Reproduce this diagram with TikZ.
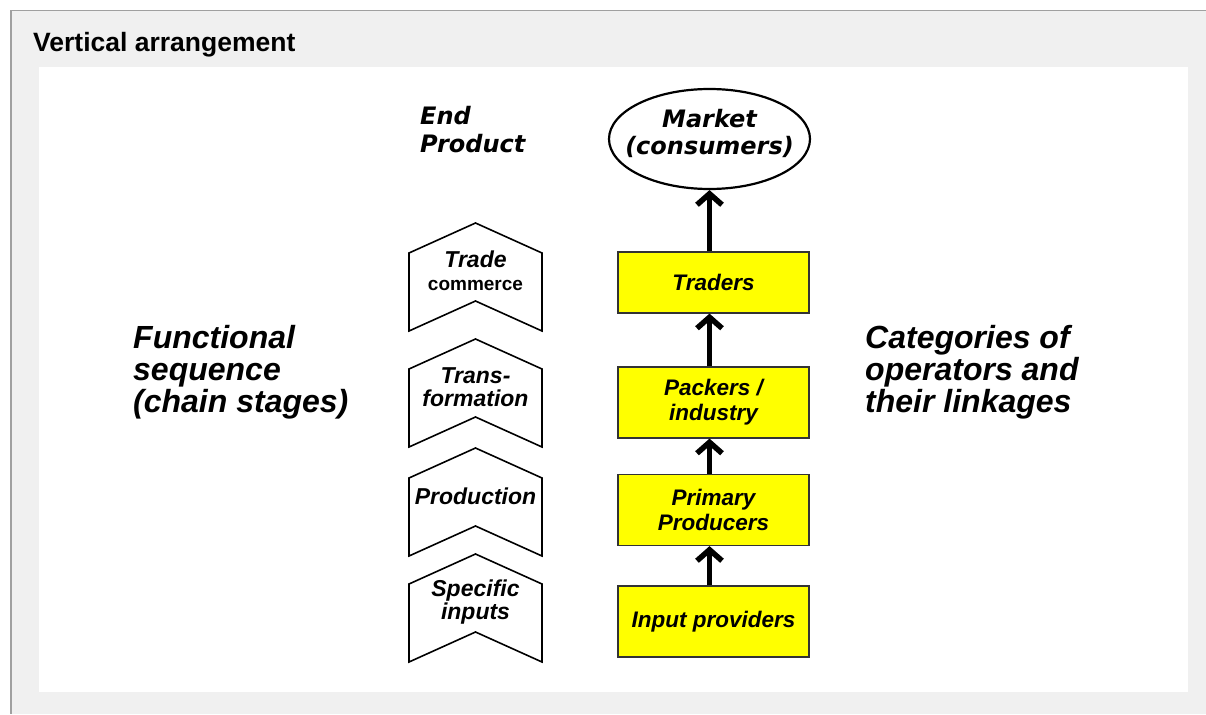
\documentclass[tikz,border=0pt]{standalone}
\usepackage{fontspec}
\setmainfont{Liberation Sans}
\newfontfamily\verd{DejaVu Sans}
\usetikzlibrary{arrows.meta,shapes.geometric}
\definecolor{panel}{HTML}{F0F0F0}
\definecolor{rim}{HTML}{A0A0A0}
\definecolor{opfill}{HTML}{FFFF00}
\tikzset{
  op/.style={draw=black!80, line width=1.2pt, fill=opfill, minimum width=191pt, minimum height=71pt, inner sep=0pt, align=center, font=\fontsize{22.5}{25}\selectfont\bfseries\itshape},
  st/.style={align=center, inner sep=0pt, font=\fontsize{23}{23.5}\selectfont\bfseries\itshape},
  big/.style={align=left, inner sep=0pt, anchor=west, font=\fontsize{32}{32}\selectfont\bfseries\itshape},
  l/.style={-{Straight Barb[length=11pt,width=25pt]}, line width=5.5pt}
}
% chevron: name, top y, text
\newcommand{\chevron}[3]{
  \draw[line width=1.6pt, fill=white] (409,#2+30) -- (475.5,#2) -- (542,#2+30) -- (542,#2+108) -- (475.5,#2+78) -- (409,#2+108) -- cycle;
  \node[st] (#1) at (475.5,#2+48) {#3};
}

\begin{document}
\begin{tikzpicture}[x=1pt,y=-1pt]
  \useasboundingbox (0,0) rectangle (1206,714);
  \fill[white] (0,0) rectangle (1206,714);
  \fill[panel] (10,11) rectangle (1206,714);
  \draw[rim, line width=1pt] (1206,11) -- (10,11);
  \draw[rim, line width=2pt] (10.5,11) -- (10.5,714);
  \fill[white] (39,67) rectangle (1188,692);
  \node[anchor=base west, inner sep=0pt, font=\fontsize{26.5}{30}\selectfont\bfseries] (title) at (33,52) {Vertical arrangement};

  \node[anchor=west, align=left, inner sep=0pt, font=\verd\fontsize{24}{28}\selectfont\bfseries\itshape] (end) at (420,130) {End\\Product};
  \node[draw, ellipse, line width=2.2pt, minimum width=201pt, minimum height=100pt, inner sep=0pt,
    label={[yshift=6pt, align=center, inner sep=0pt, font=\verd\fontsize{24}{27}\selectfont\bfseries\itshape]center:Market\\(consumers)}] (market) at (709.5,139) {};

  \chevron{trade}{223}{Trade\\{\fontsize{19}{19}\selectfont\upshape commerce}}
  \chevron{trans}{339}{Trans-\\formation}
  \chevron{prod}{448}{Production}
  \chevron{inputs}{554}{Specific\\inputs}

  \node[op, minimum height=61pt] (traders) at (713.5,282.5) {Traders};
  \node[op] (packers) at (713.5,402.5) {Packers /\\industry};
  \node[op] (primary) at (713.5,510) {Primary\\Producers};
  \node[op] (providers) at (713.5,621.5) {Input providers};

  \draw[l] (market.south |- traders.north) -- (market.south);
  \draw[l] (market.south |- packers.north) -- (market.south |- traders.south);
  \draw[l] (market.south |- primary.north) -- (market.south |- packers.south);
  \draw[l] (market.south |- providers.north) -- (market.south |- primary.south);

  \node[big] (func) at (133,372) {Functional\\sequence\\(chain stages)};
  \node[big] (cat) at (865,372) {Categories of\\operators and\\their linkages};
\end{tikzpicture}
\end{document}
